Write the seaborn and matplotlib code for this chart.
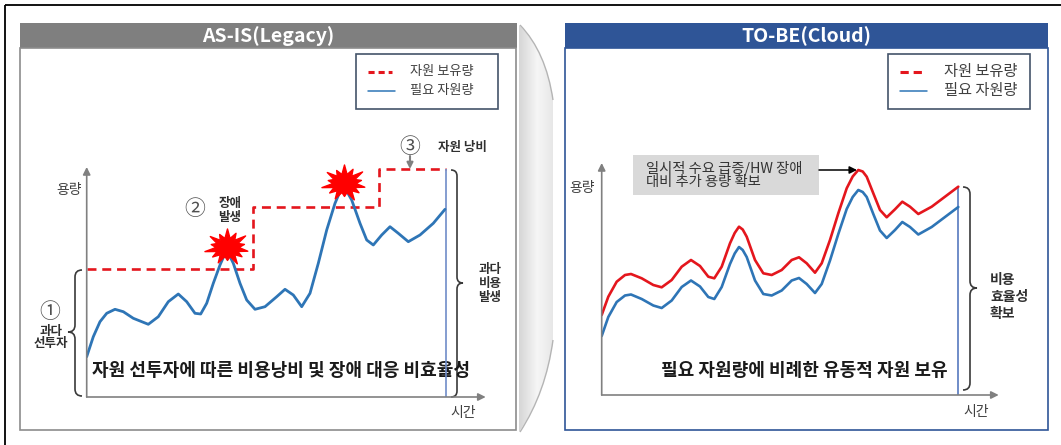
import numpy as np
import matplotlib
matplotlib.use("Agg")
import matplotlib.pyplot as plt
import seaborn as sns
from matplotlib.path import Path
from matplotlib.patches import PathPatch, Rectangle

sns.set_theme(style="white")
plt.rcParams["font.family"] = ["Noto Sans CJK KR", "DejaVu Sans"]

# ---------------- data ----------------
panel_titles = ["AS-IS(Legacy)", "TO-BE(Cloud)"]
legend_labels = ["자원 보유량", "필요 자원량"]
axis_labels = ["용량", "시간"]

# AS-IS: required resources (blue) and stepwise held resources (red dashed)
legacy_time = [0, 6.6, 13.3, 20, 28.3, 36.6, 46.6, 61.6, 71.6, 81.6, 91.6, 100, 108.3, 114, 120,
               126.6, 133.3, 136.6, 140, 143.3, 146.6, 153.3, 160, 168.3, 178.3, 190, 198.3, 206.6,
               215, 223.3, 231.6, 240, 248.3, 252.5, 256.6, 260.5, 265, 273.3, 280, 286.6, 295,
               303.3, 311.6, 321.6, 333.3, 346.6, 358.3]
legacy_demand = [40.3, 60.3, 75.3, 83.7, 87.7, 85.3, 78.7, 72.7, 80.3, 95.3, 103, 95.3, 83.7, 83,
                 93.7, 113.7, 132, 139.5, 143.7, 140.5, 133.7, 113.7, 97, 87.7, 90.3, 100.3, 107.7,
                 102, 90.3, 103.7, 133.7, 167, 193.7, 203.5, 208.7, 205, 197, 173.7, 157, 152, 162,
                 170.3, 163.7, 155.3, 162, 173.7, 187.7]
legacy_cap_time = [0, 166, 292, 359]
legacy_capacity = [128, 190, 228, 228]
incident_times = [140, 257]

# TO-BE: held resources (red) follow required resources (blue)
cloud_time = [0, 6.6, 15, 23.3, 29.3, 40, 51.6, 60, 70, 80, 89.3, 98.3, 106.6, 112.6, 120, 128.3,
              133, 137.3, 141, 145, 153.3, 161.6, 170, 180, 190, 197.3, 205, 213.3, 220, 228.3,
              236.6, 245, 251, 256.6, 261, 265, 271.6, 278.3, 285, 293.3, 300.6, 308.3, 316.6,
              330, 343.3, 356.6]
cloud_capacity = [80, 98.3, 113.3, 120, 121, 116.7, 110, 107.7, 115, 128.3, 135, 129, 118.3, 116.7,
                  128.3, 151.7, 162, 168.3, 165.5, 158.3, 135, 121.7, 120, 125, 135, 137.7, 131.7,
                  122.3, 131.7, 155, 181.7, 206.7, 218.5, 225, 223.5, 218.3, 201.7, 185, 177.7,
                  185.7, 193.3, 188.3, 181, 188.3, 198.3, 208.3]
cloud_demand = [59, 78, 93, 99.5, 100.5, 96, 89.5, 87, 94.5, 108, 114.5, 108.5, 98, 96, 108, 131,
                141.5, 148, 145, 138, 114.5, 101, 99.5, 104.5, 114.5, 117, 111, 102, 111, 134.5,
                161, 186, 198, 205, 203, 198, 181, 164.5, 157, 165, 173, 168, 160.5, 168, 178, 188]

# ---------------- styles ----------------
RED = "#E4161D"
BLUE = "#2E75B6"
VBLUE = "#6F8CC8"
AXGRAY = "#808080"
TXT = "#404040"
W, H = 1061, 445

fig = plt.figure(figsize=(W / 100, H / 100), dpi=100)
deco = fig.add_axes([0, 0, 1, 1], zorder=0)
deco.set_xlim(0, W)
deco.set_ylim(H, 0)
deco.axis("off")

# outer frame
deco.add_patch(Rectangle((5, 5), 1100, 500, fill=False, ec="black", lw=1.3))

# middle decorative shape (gradient)
mid_verts = [(519, 25), (546, 52), (553, 100), (553, 340), (546, 392), (519, 432), (519, 25)]
mid_codes = [Path.MOVETO, Path.CURVE3, Path.CURVE3, Path.LINETO, Path.CURVE3, Path.CURVE3, Path.CLOSEPOLY]
mid_patch = PathPatch(Path(mid_verts, mid_codes), fc="none", ec="none")
deco.add_patch(mid_patch)
grad = np.linspace(0, 1, 64).reshape(1, -1)
cmap = matplotlib.colors.LinearSegmentedColormap.from_list("g", ["#d6d6d6", "#f6f6f6", "#e4e4e4"])
im = deco.imshow(grad, extent=[519, 556, 432, 25], cmap=cmap, aspect="auto", zorder=0.5)
im.set_clip_path(mid_patch)
top_curve = Path([(520, 25), (546, 52), (553, 100)], [Path.MOVETO, Path.CURVE3, Path.CURVE3])
bot_curve = Path([(553, 340), (546, 392), (520, 432)], [Path.MOVETO, Path.CURVE3, Path.CURVE3])
for pth in (top_curve, bot_curve):
    deco.add_patch(PathPatch(pth, fc="none", ec="#b4b4b4", lw=1.0))
deco.set_xlim(0, W)
deco.set_ylim(H, 0)

# panels
deco.add_patch(Rectangle((20, 23), 497, 25, fc="#7F7F7F", ec="none"))
deco.add_patch(Rectangle((20, 48), 496, 382, fill=False, ec="#8C8C8C", lw=1.2))
deco.add_patch(Rectangle((565, 23), 483, 25, fc="#2F5597", ec="none"))
deco.add_patch(Rectangle((565, 48), 483, 382, fill=False, ec="#2F5597", lw=1.2))
deco.text(268, 36, panel_titles[0], ha="center", va="center", color="white", fontsize=14,
          fontweight="bold")
deco.text(806, 36, panel_titles[1], ha="center", va="center", color="white", fontsize=14,
          fontweight="bold")

# legends
for (bx, tx, txt_size, dash) in [(356, 409.5, 9.5, (2.0, 1.3)), (888, 944, 11, (2.7, 1.6))]:
    deco.add_patch(Rectangle((bx, 54), 141.5, 55, fill=False, ec="#44546A", lw=1.2))
    deco.plot([bx + 12, bx + 36], [71.5, 71.5], color=RED, lw=2.2, ls=(0, dash))
    deco.plot([bx + 12, bx + 39], [90.5, 90.5], color=BLUE, lw=1.1)
    deco.text(tx, 71.5, legend_labels[0], ha="left", va="center", fontsize=txt_size, color=TXT)
    deco.text(tx, 90.5, legend_labels[1], ha="left", va="center", fontsize=txt_size, color=TXT)


def brace(xs, y1, y2, ym, d, s, color="#3a3a3a"):
    verts = [(xs - s * d, y1), (xs, y1), (xs, y1 + d),
             (xs, ym - d), (xs, ym), (xs + s * d, ym),
             (xs, ym), (xs, ym + d),
             (xs, y2 - d), (xs, y2), (xs - s * d, y2)]
    codes = [Path.MOVETO, Path.CURVE3, Path.CURVE3, Path.LINETO, Path.CURVE3, Path.CURVE3,
             Path.CURVE3, Path.CURVE3, Path.LINETO, Path.CURVE3, Path.CURVE3]
    deco.add_patch(PathPatch(Path(verts, codes), fc="none", ec=color, lw=1.2))


brace(75, 270, 396, 332, 7, -1)
brace(457, 170, 397, 283, 6, 1)
brace(970, 187, 390, 288, 7, 1)

# annotations (left)
deco.text(50, 312, "①", ha="center", va="center", fontsize=15, color="#505050")
deco.text(51, 331, "과다", ha="center", va="center", fontsize=9, fontweight="bold", color="#303030")
deco.text(51, 344, "선투자", ha="center", va="center", fontsize=9, fontweight="bold", color="#303030")
deco.text(195, 209, "②", ha="center", va="center", fontsize=15, color="#505050")
deco.text(230, 203, "장애", ha="center", va="center", fontsize=9, fontweight="bold", color="#303030")
deco.text(230, 218, "발생", ha="center", va="center", fontsize=9, fontweight="bold", color="#303030")
deco.text(410, 147, "③", ha="center", va="center", fontsize=15, color="#505050")
deco.text(462, 148, "자원 낭비", ha="center", va="center", fontsize=9, fontweight="bold", color="#303030")
deco.annotate("", xy=(410, 169), xytext=(410, 156),
              arrowprops=dict(arrowstyle="-|>", color=AXGRAY, lw=1.5, mutation_scale=9,
                              shrinkA=0, shrinkB=0))
for yy, s in zip([269, 283, 297], ["과다", "비용", "발생"]):
    deco.text(490, yy, s, ha="center", va="center", fontsize=9, fontweight="bold", color="#303030")
deco.text(280.5, 370, "자원 선투자에 따른 비용낭비 및 장애 대응 비효율성", ha="center", va="center",
          fontsize=13, fontweight="bold", color="#1a1a1a", zorder=3)

# annotations (right)
deco.add_patch(Rectangle((633, 155), 186, 40, fc="#D9D9D9", ec="none"))
deco.text(646, 168.5, "일시적 수요 급증/HW 장애", ha="left", va="center", fontsize=10.3, color="#333333")
deco.text(646, 182, "대비 추가 용량 확보", ha="left", va="center", fontsize=10.3, color="#333333")
deco.annotate("", xy=(857, 170), xytext=(819, 170),
              arrowprops=dict(arrowstyle="-|>", color="black", lw=1.1, mutation_scale=11,
                              shrinkA=0, shrinkB=0))
for yy, s in zip([280, 297, 314], ["비용", "효율성", "확보"]):
    deco.text(990, yy, s, ha="left", va="center", fontsize=10, fontweight="bold", color="#303030")
deco.text(804.5, 370, "필요 자원량에 비례한 유동적 자원 보유", ha="center", va="center",
          fontsize=13, fontweight="bold", color="#1a1a1a", zorder=3)

# axis labels
deco.text(69, 190, axis_labels[0], ha="center", va="center", fontsize=10, color=TXT)
deco.text(463, 413, axis_labels[1], ha="center", va="center", fontsize=10, color=TXT)
deco.text(582.5, 188, axis_labels[0], ha="center", va="center", fontsize=10, color=TXT)
deco.text(976, 412, axis_labels[1], ha="center", va="center", fontsize=10, color=TXT)


# ---------------- chart axes (1 data unit = 1 px) ----------------
def chart_axes(x0, y0):
    ax = fig.add_axes([x0 / W, (H - y0) / H, 400 / W, 240 / H], zorder=2)
    ax.set_xlim(0, 400)
    ax.set_ylim(0, 240)
    ax.axis("off")
    return ax


def axis_arrows(ax, xtip, ytip):
    kw = dict(arrowstyle="-|>", color=AXGRAY, lw=1.2, mutation_scale=11, shrinkA=0, shrinkB=0)
    ax.annotate("", xy=(xtip, 0), xytext=(0, 0), arrowprops=kw)
    ax.annotate("", xy=(0, ytip), xytext=(0, 0), arrowprops=kw)


def star_marker():
    radii = [1.0, 0.78, 0.95, 0.72, 1.0, 0.82, 0.92, 0.7, 0.98, 0.8, 0.9, 0.75, 1.0, 0.85]
    n = len(radii)
    verts = []
    for i, r in enumerate(radii):
        a = 2 * np.pi * i / n + np.pi / 2
        verts.append((r * np.cos(a), 0.8 * r * np.sin(a)))
        a2 = a + np.pi / n
        verts.append((0.5 * np.cos(a2), 0.4 * np.sin(a2)))
    verts.append(verts[0])
    codes = [Path.MOVETO] + [Path.LINETO] * (len(verts) - 2) + [Path.CLOSEPOLY]
    return Path(verts, codes)


# AS-IS chart
axL = chart_axes(86.7, 397)
axis_arrows(axL, 399, 230)
sns.lineplot(x=legacy_cap_time, y=legacy_capacity, ax=axL, color=RED, lw=1.9,
             ls=(0, (3.4, 2.2)), drawstyle="steps-post", estimator=None, sort=False, legend=False)
axL.vlines(legacy_cap_time[-1], 0, legacy_capacity[-1], color=VBLUE, lw=1.2)
sns.lineplot(x=legacy_time, y=legacy_demand, ax=axL, color=BLUE, lw=2.0,
             estimator=None, sort=False, legend=False)
star_y = np.interp(incident_times, legacy_time, legacy_demand) + 6
axL.plot(incident_times, star_y, ls="none", marker=star_marker(), ms=32.5, color="#FF0000",
         mec="#FF0000")

# TO-BE chart
axR = chart_axes(601.7, 395)
axis_arrows(axR, 397, 232)
axR.vlines(cloud_time[-1], 0, cloud_capacity[-1], color=VBLUE, lw=1.4)
sns.lineplot(x=cloud_time, y=cloud_capacity, ax=axR, color=RED, lw=1.9,
             estimator=None, sort=False, legend=False)
sns.lineplot(x=cloud_time, y=cloud_demand, ax=axR, color=BLUE, lw=1.9,
             estimator=None, sort=False, legend=False)

fig.savefig("out.png", dpi=100)
